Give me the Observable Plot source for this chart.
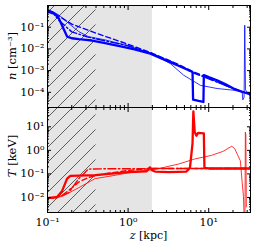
<!DOCTYPE html>
<html><head><meta charset="utf-8">
<script src="https://cdn.jsdelivr.net/npm/d3@7"></script>
<script src="https://cdn.jsdelivr.net/npm/@observablehq/plot@0.6"></script>
<style>
body{margin:0;background:#fff;}
#c{position:relative;width:257px;height:244px;}
#c svg{position:absolute;left:0;overflow:visible;background:transparent;}
</style></head><body>
<svg width="0" height="0" style="position:absolute">
<defs>
<pattern id="hatch1" patternUnits="userSpaceOnUse" width="15" height="15">
<path d="M-2,2 L2,-2 M0,15 L15,0 M13,17 L17,13" stroke="#222" stroke-width="0.7"/></pattern>
<pattern id="hatch2" patternUnits="userSpaceOnUse" width="15" height="15" patternTransform="translate(0,-107)">
<path d="M-2,2 L2,-2 M0,15 L15,0 M13,17 L17,13" stroke="#222" stroke-width="0.7"/></pattern>
</defs></svg>
<div id="c"></div>
<script>
// ---- data ----
const xDomain = [0.1, 33];
const nDomain = [2e-5, 1];
const TDomain = [2.3e-3, 66];
const shadeRange = [0.1, 2];
const hatchRange = [0.1, 0.4];

// density n [cm^-3]
const nThickZ = [0.1, 0.12, 0.138, 0.155, 0.175, 0.2, 0.244, 0.3, 0.357, 0.5, 0.84, 1.2, 1.89, 3, 4.5, 6.3, 6.4, 7.5, 8.6, 8.7, 10, 12.7, 16, 20.3, 25, 33];
const nThickV = [0.6, 0.45, 0.26, 0.1, 0.037, 0.031, 0.028, 0.026, 0.0244, 0.019, 0.0129, 0.0095, 0.0061, 0.0029, 0.0015, 0.00087, 0.000046, 0.00004, 0.000036, 0.00062, 0.0005, 0.00036, 0.00024, 0.00015, 0.00011, 0.000081];
const nDashZ = [0.1, 0.114, 0.2, 0.39, 0.93, 2, 4, 6.4, 10, 20, 33];
const nDashV = [0.55, 0.5, 0.14, 0.055, 0.018, 0.0063, 0.0021, 0.0009, 0.00045, 0.00015, 0.00008];
const nDDZ = [0.1, 0.12, 0.138, 0.2, 0.31, 0.5, 0.73, 1, 2, 4, 6.4, 10, 20, 33];
const nDDV = [0.5, 0.4, 0.21, 0.061, 0.036, 0.024, 0.018, 0.014, 0.0058, 0.002, 0.0008, 0.00042, 0.00015, 0.00008];
const nThinZ = [0.1, 0.138, 0.183, 0.244, 0.32, 0.52, 1.0, 2.0, 3.35, 4.9, 7.9, 12.7, 20, 26, 26.5, 27.5, 28.0, 28.6, 30, 33];
const nThinV = [0.67, 0.37, 0.15, 0.063, 0.037, 0.026, 0.014, 0.006, 0.0021, 0.00061, 0.00021, 0.00015, 0.000126, 0.000105, 0.000045, 0.00006, 0.124, 0.00013, 0.0001, 0.00009];

// temperature T [keV]
const TThickZ = [0.1, 0.131, 0.152, 0.175, 0.192, 0.39, 1.0, 1.7, 1.87, 2.0, 2.16, 3.2, 5.3, 5.85, 6.3, 6.45, 6.7, 7.05, 7.4, 8.7, 8.85, 10, 15, 20, 33];
const TThickV = [0.0093, 0.0102, 0.019, 0.063, 0.083, 0.089, 0.12, 0.13, 0.19, 0.14, 0.126, 0.12, 0.126, 0.18, 2, 45, 6, 4.2, 5.5, 5.3, 0.18, 0.17, 0.17, 0.17, 0.17];
const TDDZ = [0.1, 0.14, 0.183, 0.244, 0.28, 0.32, 0.5, 1, 2, 5, 10, 20, 33];
const TDDV = [0.009, 0.011, 0.016, 0.063, 0.1, 0.16, 0.165, 0.165, 0.17, 0.17, 0.17, 0.17, 0.17];
const TDashZ = [0.1, 0.15, 0.2, 0.244, 0.32, 0.5, 1, 2, 33];
const TDashV = [0.009, 0.012, 0.025, 0.045, 0.07, 0.1, 0.14, 0.17, 0.17];
const TThinZ = [0.1, 0.152, 0.244, 0.39, 0.63, 1, 2, 2.6, 4.2, 6.7, 10.8, 15, 19.3, 21, 23, 24.7, 26, 27.0, 27.6, 28.2, 28.5, 28.9, 29.3];
const TThinV = [0.0087, 0.011, 0.026, 0.063, 0.083, 0.11, 0.15, 0.18, 0.26, 0.43, 0.61, 0.9, 1.5, 1.2, 0.6, 0.36, 0.045, 0.011, 0.001, 0.003, 5.9, 4.5, 0.004];

// ticks
const majorX = [0.1, 1, 10];
const majorN = [1e-4, 1e-3, 1e-2, 1e-1, 1];
const labelN = [1e-4, 1e-3, 1e-2, 1e-1];
const majorT = [1e-2, 1e-1, 1, 10];
function minors(lo, hi) {
  const out = [];
  for (let e = -6; e <= 2; e++) for (let m = 2; m <= 9; m++) { const v = m * 10 ** e; if (v >= lo && v <= hi) out.push(v); }
  return out;
}
const minorX = minors(xDomain[0], xDomain[1]);
const minorN = minors(nDomain[0], nDomain[1]);
const minorT = minors(TDomain[0], TDomain[1]);

const sup = {"-":"\u207B","0":"\u2070","1":"\u00B9","2":"\u00B2","3":"\u00B3","4":"\u2074","5":"\u2075","6":"\u2076","7":"\u2077","8":"\u2078","9":"\u2079"};
const fmt = d => "10" + String(Math.round(Math.log10(d))).split("").map(c => sup[c]).join("");
const blank = () => "";

const zip = (zs, vs) => zs.map((z, i) => ({z, v: vs[i]}));

const BLUE = "#0000ff", RED = "#ff0000";
const W = 257, ML = 47, MR = 7;
const FONT = {fontFamily: "DejaVu Serif", fontSize: "11px", background: "transparent", overflow: "visible"};

function frameAxes(yMajor, yLabels, yMinor, showX) {
  const m = [
    Plot.axisX({anchor: "bottom", ticks: majorX, tickSize: -4, tickFormat: blank, label: null}),
    Plot.axisX({anchor: "bottom", ticks: minorX, tickSize: -2, tickFormat: blank, label: null}),
    Plot.axisX({anchor: "top", ticks: majorX, tickSize: -4, tickFormat: blank, label: null}),
    Plot.axisX({anchor: "top", ticks: minorX, tickSize: -2, tickFormat: blank, label: null}),
    Plot.axisY({anchor: "left", ticks: yMajor, tickSize: -4, tickFormat: blank, label: null}),
    Plot.axisY({anchor: "left", ticks: yLabels, tickSize: 0, tickPadding: 3, tickFormat: fmt, label: null}),
    Plot.axisY({anchor: "left", ticks: yMinor, tickSize: -2, tickFormat: blank, label: null}),
    Plot.axisY({anchor: "right", ticks: yMajor, tickSize: -4, tickFormat: blank, label: null}),
    Plot.axisY({anchor: "right", ticks: yMinor, tickSize: -2, tickFormat: blank, label: null}),
    Plot.frame({stroke: "#000", strokeWidth: 1})
  ];
  if (showX) m.push(Plot.axisX({anchor: "bottom", ticks: majorX, tickSize: 0, tickPadding: 6, tickFormat: fmt, label: null}));
  return m;
}

function lines(sets) {
  return sets.map(([zs, vs, color, w, dash]) =>
    Plot.line(zip(zs, vs), {x: "z", y: "v", stroke: color, strokeWidth: w, strokeDasharray: dash, clip: true}));
}

const topPlot = Plot.plot({
  width: W, height: 107, marginTop: 5, marginBottom: 0, marginLeft: ML, marginRight: MR,
  style: FONT,
  x: {type: "log", domain: xDomain, axis: null},
  y: {type: "log", domain: nDomain, axis: null},
  marks: [
    Plot.rect([shadeRange], {x1: d => d[0], x2: d => d[1], fill: "#e5e5e5"}),
    Plot.rect([hatchRange], {x1: d => d[0], x2: d => d[1], fill: "url(#hatch1)"}),
    ...lines([
      [nThinZ, nThinV, BLUE, 0.8, null],
      [nDDZ, nDDV, BLUE, 1.4, "8,2.5,1.5,2.5"],
      [nDashZ, nDashV, BLUE, 1.4, "5,3"],
      [nThickZ, nThickV, BLUE, 2.3, null]
    ]),
    ...frameAxes(majorN, labelN, minorN, false)
  ]
});

const botPlot = Plot.plot({
  width: W, height: 137, marginTop: 0, marginBottom: 32, marginLeft: ML, marginRight: MR,
  style: FONT,
  x: {type: "log", domain: xDomain, axis: null},
  y: {type: "log", domain: TDomain, axis: null},
  marks: [
    Plot.rect([shadeRange], {x1: d => d[0], x2: d => d[1], fill: "#e5e5e5"}),
    Plot.rect([hatchRange], {x1: d => d[0], x2: d => d[1], fill: "url(#hatch2)"}),
    ...lines([
      [TThinZ, TThinV, RED, 0.8, null],
      [TDDZ, TDDV, RED, 1.4, "8,2.5,1.5,2.5"],
      [TDashZ, TDashV, RED, 1.4, "5,3"],
      [TThickZ, TThickV, RED, 2.3, null]
    ]),
    ...frameAxes(majorT, majorT, minorT, true)
  ]
});

const c = document.getElementById("c");
topPlot.style.top = "0px";
botPlot.style.top = "107px";
c.appendChild(topPlot);
c.appendChild(botPlot);

function ylabel(svg, cx, cy, sym, rest) {
  const t = d3.select(svg).append("text")
    .attr("transform", `translate(${cx},${cy}) rotate(-90)`)
    .attr("text-anchor", "middle").attr("dominant-baseline", "central")
    .attr("font-family", "DejaVu Serif").attr("font-size", 11.5).attr("fill", "#000");
  t.append("tspan").attr("font-style", "italic").text(sym);
  t.append("tspan").text(rest);
}
ylabel(topPlot, 12, 56, "n", " [cm\u207B\u00B3]");
ylabel(botPlot, 12, 156 - 107, "T", " [keV]");
const xl = d3.select(botPlot).append("text")
  .attr("x", (ML + W - MR) / 2).attr("y", 235 - 107)
  .attr("text-anchor", "middle").attr("dominant-baseline", "central")
  .attr("font-family", "DejaVu Serif").attr("font-size", 11).attr("fill", "#000");
xl.append("tspan").attr("font-style", "italic").text("z");
xl.append("tspan").text(" [kpc]");
</script>
</body></html>
